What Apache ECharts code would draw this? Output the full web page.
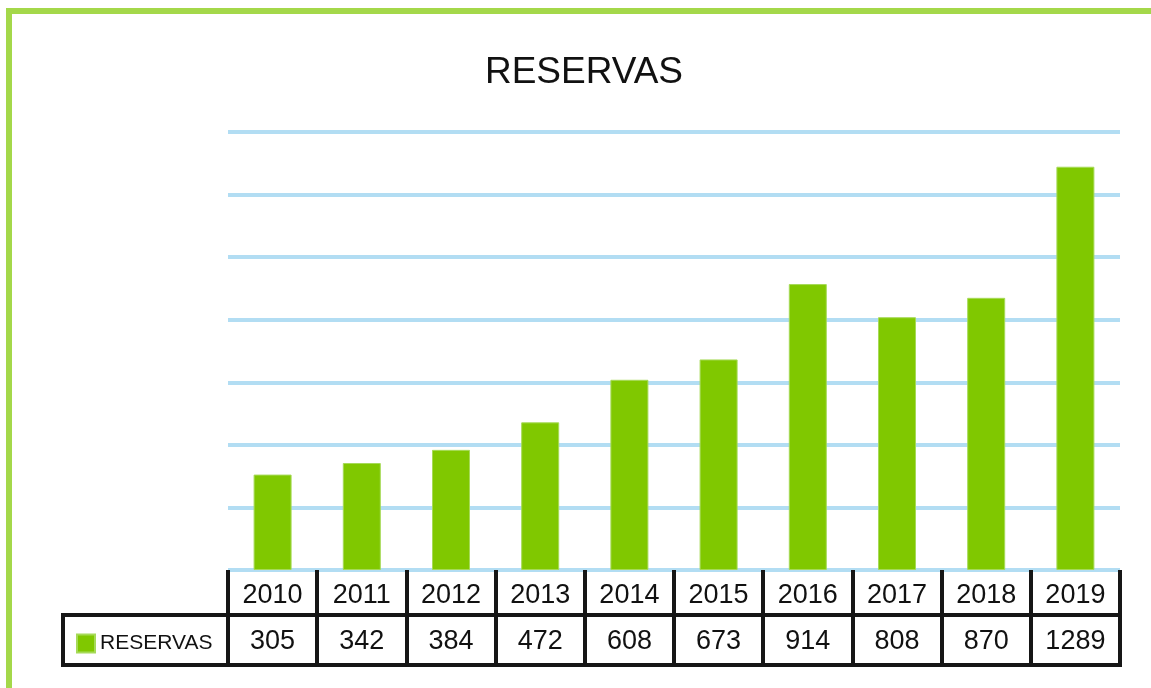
<!DOCTYPE html>
<html>
<head>
<meta charset="utf-8">
<title>RESERVAS</title>
<script src="https://cdn.jsdelivr.net/npm/echarts@6/dist/echarts.min.js"></script>
<style>
  html, body { margin: 0; padding: 0; background: #fff; }
  #chart { width: 1151px; height: 688px; }
</style>
</head>
<body>
<div id="chart"></div>
<script>
// datos
const years = ['2010', '2011', '2012', '2013', '2014', '2015', '2016', '2017', '2018', '2019']
const reservas = [305, 342, 384, 472, 608, 673, 914, 808, 870, 1289]
const seriesName = 'RESERVAS'

const green = '#80c800'
const black = '#161616'
const font = 'Liberation Sans, Arial, Helvetica, sans-serif'

const chart = echarts.init(document.getElementById('chart'))

const option = {
  animation: false,
  backgroundColor: '#fff',
  title: {
    text: 'RESERVAS',
    left: 579,
    top: 49,
    textAlign: 'center',
    textStyle: { fontFamily: font, fontSize: 37, fontWeight: 'normal', color: '#111' }
  },
  legend: {
    data: [seriesName],
    left: 71,
    top: 628,
    icon: 'rect',
    itemWidth: 18,
    itemHeight: 18,
    itemGap: 5,
    selectedMode: false,
    textStyle: { fontFamily: font, fontSize: 21, color: '#111', padding: [2, 0, 0, 0] }
  },
  grid: { left: 228, right: 31, top: 132, bottom: 118 },
  xAxis: [
    {
      // fila de años
      type: 'category',
      data: years,
      position: 'bottom',
      axisLine: { show: false },
      axisTick: { show: true, length: 97, interval: 0, lineStyle: { color: black, width: 4 } },
      axisLabel: { margin: 12, fontFamily: font, fontSize: 27, color: '#111' }
    },
    {
      // fila de valores
      type: 'category',
      data: reservas.map(String),
      position: 'bottom',
      offset: 45,
      axisLine: { show: true, lineStyle: { color: black, width: 4 } },
      axisTick: { show: false },
      axisLabel: { margin: 13, fontFamily: font, fontSize: 27, color: '#111' }
    },
    {
      type: 'category',
      data: years,
      position: 'bottom',
      offset: 95,
      axisLine: { show: true, lineStyle: { color: black, width: 4 } },
      axisTick: { show: false },
      axisLabel: { show: false }
    }
  ],
  yAxis: {
    type: 'value',
    min: 0,
    max: 1400,
    interval: 200,
    axisLine: { show: false },
    axisTick: { show: false },
    axisLabel: { show: false },
    splitLine: { lineStyle: { color: '#b2ddf3', width: 4 } }
  },
  series: [
    {
      name: seriesName,
      type: 'bar',
      data: reservas,
      barWidth: 38,
      itemStyle: { color: green, borderColor: '#a6da58', borderWidth: 1 }
    }
  ],
  graphic: [
    // borde verde
    { type: 'rect', shape: { x: 6, y: 8, width: 1200, height: 6 }, style: { fill: '#a4d84a' } },
    { type: 'rect', shape: { x: 6, y: 8, width: 6, height: 700 }, style: { fill: '#a4d84a' } },
    // celda de la leyenda
    {
      type: 'rect',
      shape: { x: 63, y: 615, width: 165, height: 50 },
      style: { fill: 'none', stroke: black, lineWidth: 4 },
      z: 10
    }
  ]
}

chart.setOption(option)
</script>
</body>
</html>
